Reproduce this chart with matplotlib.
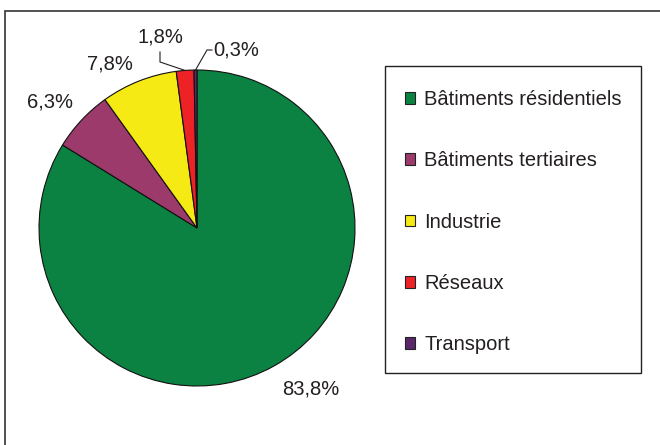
import numpy as np
import matplotlib.pyplot as plt
from matplotlib.patches import Rectangle, Patch

plt.rcParams['font.family'] = ['Liberation Sans', 'DejaVu Sans']

## Data
secteurs = ['Bâtiments résidentiels', 'Bâtiments tertiaires', 'Industrie', 'Réseaux', 'Transport']
parts = [83.8, 6.3, 7.8, 1.8, 0.3]
couleurs = ['#0b8241', '#9b3a6b', '#f5ea14', '#ed2227', '#5b276b']
etiquettes = ['83,8%', '6,3%', '7,8%', '1,8%', '0,3%']

W, H = 660, 445
fig = plt.figure(figsize=(W/100, H/100), dpi=100)

## outer frame (clipped at right / bottom like the reference)
fig.patches.append(Rectangle((5/W, -0.1), 1.2, 1 - 11/H + 0.1, transform=fig.transFigure,
                             fill=False, edgecolor='#333333', lw=1.2))

## pie axes: centre (197,228) px, radius 158 px
R = 158
cx, cy = 197, 228
ax = fig.add_axes([(cx-R)/W, (H-cy-R)/H, 2*R/W, 2*R/H])
wedges, _ = ax.pie(parts, colors=couleurs, startangle=90, counterclock=False,
                   wedgeprops=dict(edgecolor='#111111', linewidth=0.8))
ax.set_xlim(-1, 1)
ax.set_ylim(-1, 1)
ax.set_aspect('equal')
ax.axis('off')

fs = 14.5
txtcol = '#231f20'
# label distance / angle tweak per slice (deg), in radius units
decal = [(1.25, 6.1), (1.225, 2.4), (1.175, 6.3), None, None]
for k, w in enumerate(wedges):
    mid = np.deg2rad((w.theta1 + w.theta2) / 2)
    if decal[k] is not None:
        d, da = decal[k]
        a = mid + np.deg2rad(da)
        ax.text(d*np.cos(a), d*np.sin(a), etiquettes[k], ha='center', va='center',
                fontsize=fs, color=txtcol, clip_on=False)
    else:
        ex, ey = np.cos(mid), np.sin(mid)
        if k == 3:
            pts = [(ex, ey), (-37/R, 1 + 8/R), (-37/R, 1 + 18/R)]
            ax.plot(*zip(*pts), color=txtcol, lw=0.8, clip_on=False)
            ax.text(-37/R, 1 + 33/R, etiquettes[k], ha='center', va='center',
                    fontsize=fs, color=txtcol, clip_on=False)
        else:
            pts = [(ex, ey), (10/R, 1 + 20/R), (15/R, 1 + 20/R)]
            ax.plot(*zip(*pts), color=txtcol, lw=0.8, clip_on=False)
            ax.text(16/R, 1 + 20/R, etiquettes[k], ha='left', va='center',
                    fontsize=fs, color=txtcol, clip_on=False)

## legend frame + entries
fig.patches.append(Rectangle((385/W, 1 - 373/H), 256/W, 307/H, transform=fig.transFigure,
                             fill=False, edgecolor='#222222', lw=1.0))
handles = [Patch(facecolor=c, edgecolor='#222222', lw=0.8) for c in couleurs]
fig.legend(handles, secteurs, loc='upper left', bbox_to_anchor=(395/W, 1 - 80/H),
           frameon=False, fontsize=fs, handlelength=0.5, handleheight=0.5,
           handletextpad=0.45, labelspacing=2.1, borderpad=0, labelcolor=txtcol)

fig.savefig('out.png', dpi=100)
